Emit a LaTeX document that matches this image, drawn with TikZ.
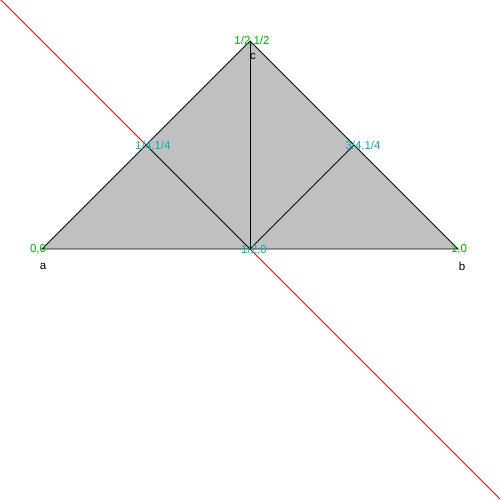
\documentclass[tikz,border=0pt]{standalone}
\usepackage{fontspec}
\setmainfont{Liberation Sans}
\definecolor{vgreen}{RGB}{0,176,0}
\definecolor{mteal}{RGB}{0,176,176}
\definecolor{fillgray}{RGB}{192,192,192}
\tikzset{
  vlabel/.style={text=vgreen, font=\fontsize{11.5}{12}\selectfont, inner sep=0pt, anchor=center},
  mlabel/.style={text=mteal, font=\fontsize{11.5}{12}\selectfont, inner sep=0pt, anchor=center},
  nlabel/.style={text=black, font=\fontsize{11.5}{12}\selectfont, inner sep=0pt, anchor=center},
  edge/.style={draw=black, line width=0.9pt},
  redline/.style={draw=red, line width=0.9pt}
}
\begin{document}
\begin{tikzpicture}[x=1pt,y=-1pt]
\useasboundingbox (0,0) rectangle (500,500);
\coordinate (A) at (42,249);
\coordinate (B) at (458,249);
\coordinate (C) at (250,41);
\coordinate (M1) at (146,145);
\coordinate (M2) at (354,145);
\coordinate (M3) at (250,249);
\coordinate (R0) at (0,-1);
\coordinate (R1) at (501,500);
\begin{scope}
\clip (0,0) rectangle (500,500);
\draw[redline] (R0) -- (R1);
\end{scope}
\fill[fillgray] (A) -- (B) -- (C) -- cycle;
\draw[edge] (A) -- (B) -- (C) -- cycle;
\draw[edge] (C) -- (M3);
\draw[edge] (M1) -- (M3);
\draw[edge] (M2) -- (M3);
\node[vlabel] (la) at (38,249) {0,0};
\node[vlabel] (lb) at (459,249) {1,0};
\node[vlabel] (lc) at (252,41) {1/2,1/2};
\node[mlabel] (lm1) at (153,146) {1/4,1/4};
\node[mlabel] (lm2) at (363,146) {3/4,1/4};
\node[mlabel] (lm3) at (254,250) {1/2,0};
\node[nlabel] (na) at (43,266) {a};
\node[nlabel] (nb) at (462,266) {b};
\node[nlabel] (nc) at (253,56) {c};
\end{tikzpicture}
\end{document}
